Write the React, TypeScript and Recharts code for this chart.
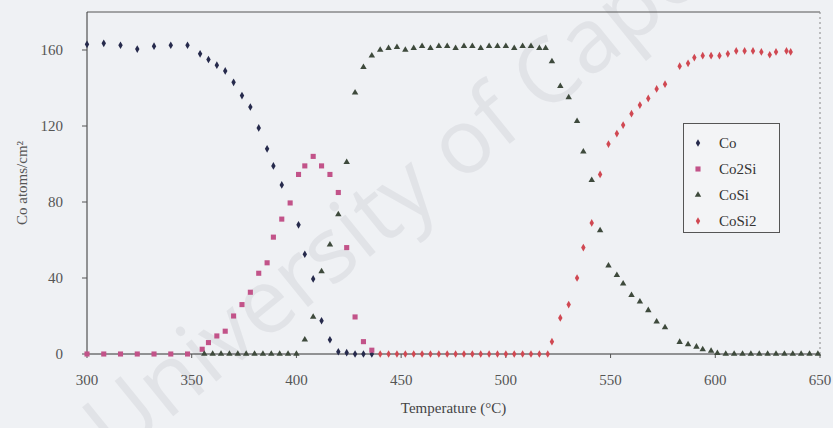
import React from "react";
import {
  ScatterChart, Scatter, XAxis, YAxis, ReferenceLine, Symbols,
} from "recharts";

// [temperature °C, Co atoms/cm²]
const coPoints: [number, number][] = [
  [300, 163], [308, 163.5], [316, 162.5], [324, 160.5], [332, 162], [340, 162.5], [348, 162.5],
  [354, 158], [358, 155], [362, 152], [366, 149], [370, 143], [374, 136], [378, 130],
  [382, 119], [386, 108], [389, 99], [393, 89], [401, 68], [404, 52.5], [408, 39.5],
  [412, 17.5], [416, 7.5], [420, 1.2], [424, 0.7], [428, 0], [432, 0], [436, 0],
];

const co2SiPoints: [number, number][] = [
  [300, 0], [308, 0], [316, 0], [324, 0], [332, 0], [340, 0], [348, 0],
  [355, 2.5], [358, 6], [362, 9.5], [366, 12], [370, 20], [374, 26], [378, 32.5],
  [382, 42.5], [386, 48], [389, 61.5], [393, 71], [397, 79.5], [401, 94.5], [404, 99],
  [408, 104], [412, 99], [416, 94.5], [420, 85], [424, 56], [428, 19.5], [432, 6.5], [436, 2],
];

const coSiPoints: [number, number][] = [
  [356, 0], [360, 0], [364, 0], [368, 0], [372, 0], [376, 0], [380, 0], [384, 0],
  [388, 0], [392, 0], [396, 0], [400, 0], [404, 7.5], [408, 19.5], [412, 43.5],
  [416, 57.5], [420, 73.5], [424, 101], [428, 137.5], [432, 151], [436, 157],
  [440, 160], [444, 161], [448, 161.5], [452, 160], [456, 161], [460, 162], [464, 161],
  [468, 162], [472, 162], [476, 161], [480, 162], [484, 162], [488, 161], [492, 162],
  [496, 162], [500, 162], [504, 161], [508, 162], [512, 162], [516, 161], [519, 161],
  [522, 154], [526, 141], [530, 135], [534, 122.5], [537, 106.5], [541, 91.5], [545, 65],
  [549, 46.5], [553, 41.5], [556, 37], [560, 31], [564, 27.5], [568, 23], [572, 17],
  [576, 14], [583, 6.3], [587, 5], [591, 3.8], [594, 2.4], [598, 1.6], [601, 0.4],
  [605, 0], [609, 0], [613, 0], [617, 0], [621, 0], [625, 0], [629, 0], [633, 0],
  [637, 0], [641, 0], [645, 0], [649, 0],
];

const coSi2Points: [number, number][] = [
  [440, 0], [444, 0], [448, 0], [452, 0], [456, 0], [460, 0], [464, 0], [468, 0],
  [472, 0], [476, 0], [480, 0], [484, 0], [488, 0], [492, 0], [496, 0], [500, 0],
  [504, 0], [508, 0], [512, 0], [516, 0], [520, 0],
  [522, 6.5], [526, 19], [530, 26], [534, 40], [537, 56], [541, 69], [545, 94.5],
  [549, 110.5], [553, 116], [556, 120.5], [560, 126.5], [564, 131], [568, 134.5],
  [572, 139.5], [576, 142], [583, 151.5], [587, 153], [590, 156], [594, 157],
  [598, 157], [602, 157], [606, 158], [610, 159.5], [614, 159.5], [618, 159.5],
  [622, 159], [626, 157.5], [629, 159], [634, 159.5], [636, 159],
];

const xTicks = [300, 350, 400, 450, 500, 550, 600, 650];
const yTicks = [0, 40, 80, 120, 160];

const toXY = (pts: [number, number][]) => pts.map(([x, y]) => ({ x, y }));

const FONT = '"Liberation Serif", "DejaVu Serif", serif';

const series = [
  { name: "Co", data: toXY(coPoints), fill: "#262a4c", shape: "diamond", size: 17 },
  { name: "Co2Si", data: toXY(co2SiPoints), fill: "#c25389", shape: "square", size: 26 },
  { name: "CoSi", data: toXY(coSiPoints), fill: "#3e4a3c", shape: "triangle", size: 18 },
  { name: "CoSi2", data: toXY(coSi2Points), fill: "#d04852", shape: "diamond", size: 17 },
] as const;

function LegendBox() {
  return (
    <div style={{
      position: "absolute", left: 683, top: 123, width: 97, height: 110,
      border: "1px solid #555", background: "#f3f4f6", boxSizing: "border-box",
      padding: "6px 0 0 8px", fontFamily: FONT, fontSize: 15, color: "#333",
    }}>
      {series.map(s => (
        <div key={s.name} style={{ display: "flex", alignItems: "center", height: 26 }}>
          <svg width={12} height={12} style={{ marginRight: 15 }}>
            <Symbols cx={6} cy={6} type={s.shape} size={s.size} fill={s.fill} />
          </svg>
          {s.name}
        </div>
      ))}
    </div>
  );
}

export default function App() {
  return (
    <div style={{ position: "absolute", left: 0, top: 0, width: 833, height: 428, background: "#eff1f4", overflow: "hidden" }}>
      <div style={{
        position: "absolute", left: 66, top: 400, fontFamily: "'Open Sans', sans-serif", fontSize: 90,
        color: "#e1e3e7", transform: "rotate(-39deg)", transformOrigin: "0 0", whiteSpace: "nowrap",
        lineHeight: 1,
      }}>
        University of Cape Town
      </div>
      <div style={{ position: "absolute", left: 0, top: 0 }}>
        <ScatterChart width={833} height={428} margin={{ top: 12, right: 13, bottom: 44, left: 12 }}>
          <XAxis
            type="number" dataKey="x" domain={[300, 650]} ticks={xTicks} height={30}
            tick={{ fill: "#555", fontSize: 15, fontFamily: FONT }} tickSize={4} tickMargin={16}
            axisLine={{ stroke: "#333" }} tickLine={{ stroke: "#555" }}
            label={{ value: "Temperature (°C)", position: "bottom", offset: 18, fill: "#444", fontSize: 15, fontFamily: FONT }}
          />
          <YAxis
            type="number" dataKey="y" domain={[0, 180]} ticks={yTicks} width={75}
            tick={{ fill: "#555", fontSize: 15, fontFamily: FONT }} tickSize={5} tickMargin={19}
            axisLine={{ stroke: "#333" }} tickLine={{ stroke: "#555" }}
            label={{ value: "Co atoms/cm²", angle: -90, position: "insideLeft", offset: 10, fill: "#555", fontSize: 15, fontFamily: FONT, style: { textAnchor: "middle" } }}
          />
          <ReferenceLine y={180} stroke="#555" />
          <ReferenceLine x={650} stroke="#888" strokeDasharray="2 3" />
          {series.map(s => (
            <Scatter
              key={s.name} name={s.name} data={s.data} fill={s.fill} isAnimationActive={false}
              shape={(p: any) => <Symbols cx={p.cx} cy={p.cy} type={s.shape} size={s.size} fill={s.fill} />}
            />
          ))}
        </ScatterChart>
      </div>
      <LegendBox />
    </div>
  );
}
